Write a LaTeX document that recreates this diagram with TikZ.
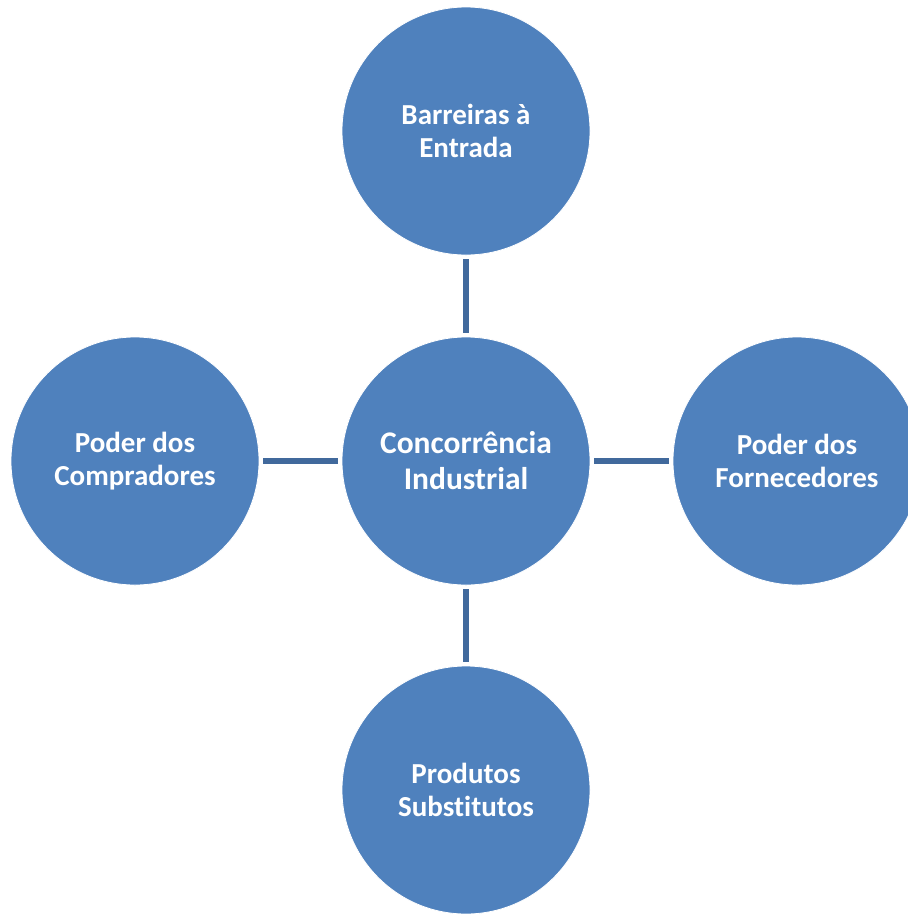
\documentclass[tikz,border=0pt]{standalone}
\usepackage{fontspec}
\setmainfont{Carlito}[Ligatures=NoCommon]
\definecolor{circfill}{HTML}{4F81BD}
\definecolor{linkcol}{HTML}{41699C}
\begin{document}
\begin{tikzpicture}[x=1pt,y=-1pt,
  force/.style={circle,fill=circfill,draw=white,line width=0.8pt,minimum size=248pt,inner sep=0pt,
    text=white,align=center,font=\fontsize{29}{33}\selectfont\bfseries},
  hub/.style={force,font=\fontsize{31.5}{36}\selectfont\bfseries},
  link/.style={draw=linkcol,line width=6pt,shorten <=4pt,shorten >=4pt}]
\useasboundingbox (0,0) rectangle (908,914);
\node[force] (top) at (466,131) {Barreiras à\\Entrada};
\node[hub] (mid) at (466,461) {Concorrência\\Industrial};
\node[force] (left) at (135,461) {Poder dos\\Compradores};
\node[force] (right) at (797,461) {Poder dos\\Fornecedores};
\node[force] (bot) at (466,790) {Produtos\\Substitutos};
\draw[link] (top) -- (mid);
\draw[link] (left) -- (mid);
\draw[link] (mid) -- (right);
\draw[link] (mid) -- (bot);
\end{tikzpicture}
\end{document}
